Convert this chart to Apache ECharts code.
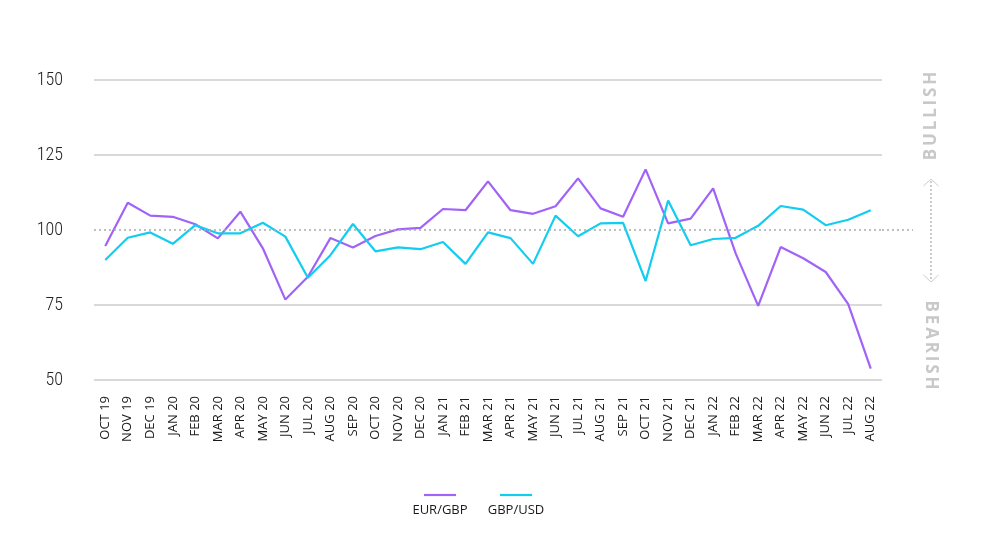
<!DOCTYPE html>
<html>
<head>
<meta charset="utf-8">
<script src="https://cdn.jsdelivr.net/npm/echarts@6/dist/echarts.min.js"></script>
<style>
html,body{margin:0;padding:0;background:#fff;}
#chart{width:985px;height:560px;}
</style>
</head>
<body>
<div id="chart"></div>
<script>
var categories = ['OCT 19','NOV 19','DEC 19','JAN 20','FEB 20','MAR 20','APR 20','MAY 20','JUN 20','JUL 20','AUG 20','SEP 20','OCT 20','NOV 20','DEC 20','JAN 21','FEB 21','MAR 21','APR 21','MAY 21','JUN 21','JUL 21','AUG 21','SEP 21','OCT 21','NOV 21','DEC 21','JAN 22','FEB 22','MAR 22','APR 22','MAY 22','JUN 22','JUL 22','AUG 22'];
var eurGbp = [94.7,109.1,104.8,104.4,101.9,97.2,106.1,93.9,76.8,84.4,97.3,94.2,98.0,100.2,100.7,107.0,106.6,116.2,106.6,105.4,107.9,117.2,107.2,104.4,120.2,102.2,103.8,113.9,92.2,74.7,94.3,90.6,86.0,75.3,53.8];
var gbpUsd = [90.0,97.4,99.2,95.4,101.6,98.9,98.9,102.4,97.8,84.1,91.6,102.0,92.9,94.2,93.6,96.0,88.7,99.2,97.3,88.7,104.8,97.9,102.2,102.4,83.0,109.8,94.9,97.0,97.4,101.4,108.0,106.8,101.6,103.4,106.6];
var yTicks = [50,75,100,125,150];
var seriesNames = ['EUR/GBP','GBP/USD'];
var colors = ['#a163f7','#12cdf0'];

var chart = echarts.init(document.getElementById('chart'), null, {renderer:'canvas'});
var option = {
  animation:false,
  backgroundColor:'#ffffff',
  grid:{left:94,right:103,top:80,bottom:180},
  xAxis:{
    type:'category',
    data:categories,
    boundaryGap:true,
    axisLine:{show:false},
    axisTick:{show:false},
    axisLabel:{rotate:90,interval:0,margin:16,fontSize:13,color:'#1a1a1a',fontFamily:'"Open Sans", sans-serif'}
  },
  yAxis:{
    type:'value',
    min:yTicks[0],max:yTicks[yTicks.length-1],interval:25,
    axisLine:{show:false},
    axisTick:{show:false},
    axisLabel:{margin:31,fontSize:18,fontWeight:'300 condensed',color:'#222',fontFamily:'"Roboto Condensed","DejaVu Sans Condensed","Liberation Sans Narrow",Roboto,sans-serif'},
    splitLine:{show:true,lineStyle:{width:1.5,color:['#cccccc','#cccccc','rgba(0,0,0,0)','#cccccc','#cccccc']}}
  },
  series:[
    {name:seriesNames[0],type:'line',data:eurGbp,symbol:'none',lineStyle:{width:2.2,color:colors[0]},itemStyle:{color:colors[0]},
     markLine:{silent:true,symbol:'none',label:{show:false},lineStyle:{type:[2,3],color:'#aaaaaa',width:1.5},data:[{yAxis:100}]}},
    {name:seriesNames[1],type:'line',data:gbpUsd,symbol:'none',lineStyle:{width:2.2,color:colors[1]},itemStyle:{color:colors[1]}}
  ]
};
chart.setOption(option);

var y100 = chart.convertToPixel({yAxisIndex:0},100);
var gridRight = 985-103;
var ax = 931;
var g = [
  {type:'line',shape:{x1:gridRight,y1:y100,x2:913,y2:y100},style:{stroke:'#aaaaaa',lineWidth:1.5,lineDash:[2,3]}},
  {type:'line',shape:{x1:ax,y1:181,x2:ax,y2:281},style:{stroke:'#bbbbbb',lineWidth:1.5,lineDash:[2,2]}},
  {type:'polyline',shape:{points:[[923.5,186],[ax,179],[938.5,186]]},style:{stroke:'#cccccc',lineWidth:1,fill:null}},
  {type:'polyline',shape:{points:[[923.5,275],[ax,282],[938.5,275]]},style:{stroke:'#cccccc',lineWidth:1,fill:null}},
  {type:'text',x:ax,y:116,rotation:Math.PI/2,style:{text:'B\u2009U\u2009L\u2009L\u2009I\u2009S\u2009H',fill:'#c8c8c8',font:'bold 17px "Open Sans", sans-serif',align:'center',verticalAlign:'middle'}},
  {type:'text',x:ax,y:345,rotation:-Math.PI/2,style:{text:'B\u2009E\u2009A\u2009R\u2009I\u2009S\u2009H',fill:'#c8c8c8',font:'bold 17px "Open Sans", sans-serif',align:'center',verticalAlign:'middle'}},
  {type:'line',shape:{x1:424,y1:495,x2:456,y2:495},style:{stroke:colors[0],lineWidth:2.2}},
  {type:'line',shape:{x1:500,y1:495,x2:532,y2:495},style:{stroke:colors[1],lineWidth:2.2}},
  {type:'text',x:440,y:510,style:{text:seriesNames[0],fill:'#1a1a1a',font:'13px "Open Sans", sans-serif',align:'center',verticalAlign:'middle'}},
  {type:'text',x:516,y:510,style:{text:seriesNames[1],fill:'#1a1a1a',font:'13px "Open Sans", sans-serif',align:'center',verticalAlign:'middle'}}
];
chart.setOption({graphic:g});
</script>
</body>
</html>
